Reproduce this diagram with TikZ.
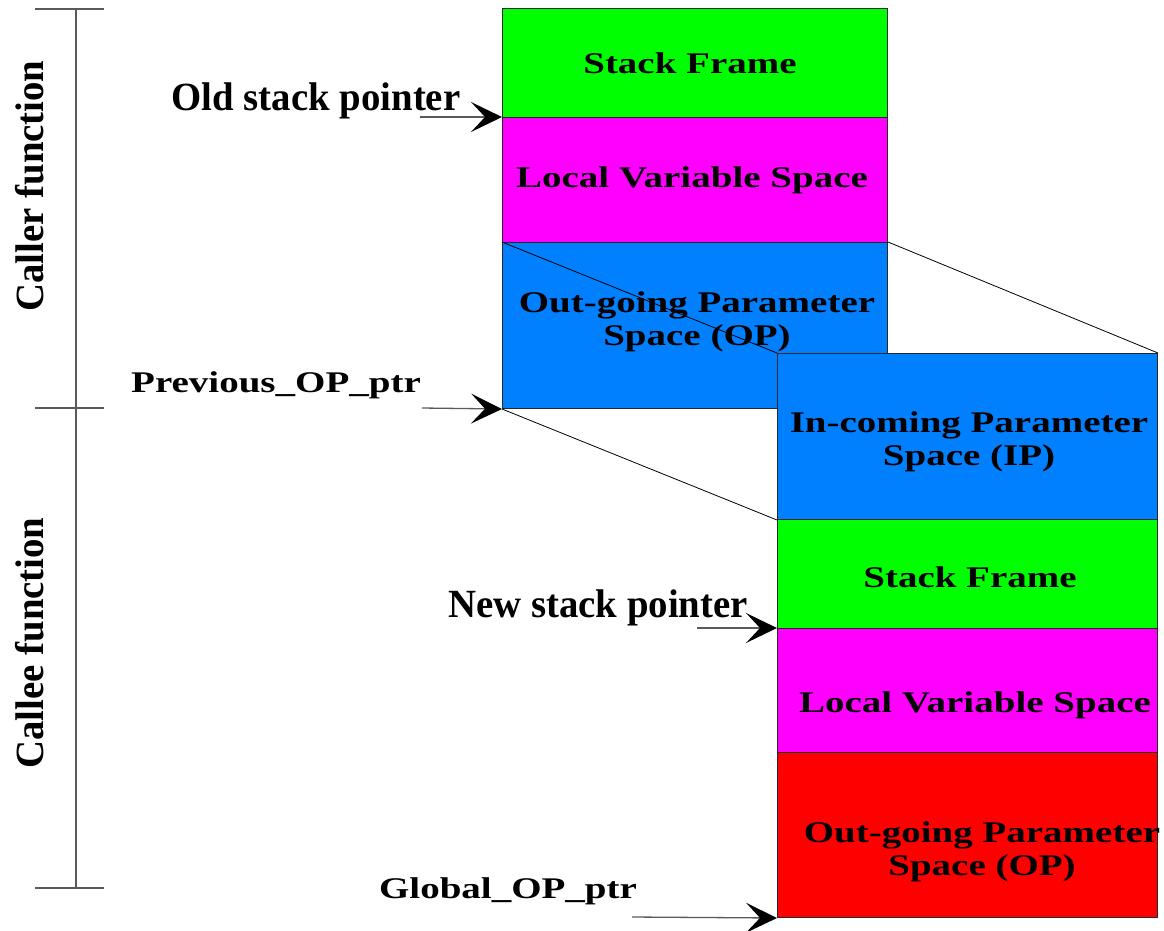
\documentclass[tikz,border=0pt]{standalone}
\usepackage{fontspec}
\setmainfont{Liberation Serif}
\newfontfamily\widefam{Liberation Serif}[FakeStretch=1.3]
\newfontfamily\sidefam{Liberation Serif}[FakeStretch=0.97]
\usetikzlibrary{arrows.meta}
\definecolor{framegreen}{RGB}{0,255,0}
\definecolor{localmag}{RGB}{255,0,255}
\definecolor{parblue}{RGB}{0,128,255}
\definecolor{outred}{RGB}{255,0,0}
\definecolor{edgegray}{RGB}{40,40,40}
\definecolor{rulegray}{RGB}{90,90,90}
\tikzset{
  seg/.style={draw=edgegray, line width=1pt, inner sep=0pt, anchor=north west},
  boxtext/.style={inner sep=0pt, font=\widefam\bfseries\fontsize{30}{33}\selectfont, align=center},
  sidetext/.style={inner sep=0pt, font=\sidefam\bfseries\fontsize{40}{44}\selectfont, anchor=base},
  ptrtext/.style={inner sep=0pt, font=\widefam\bfseries\fontsize{30}{33}\selectfont, anchor=base},
  ptr/.style={draw=rulegray, line width=1.3pt, -{Stealth[length=31pt,width=30pt,inset=14pt,black]}},
  link/.style={draw=black, line width=0.8pt},
  rule/.style={draw=rulegray, line width=1.5pt}
}
\begin{document}
\begin{tikzpicture}[x=1pt,y=-1pt]
\useasboundingbox (0,0) rectangle (1164,930);

% caller frame
\node[seg, fill=framegreen, minimum width=385pt, minimum height=109pt] (sf1) at (502,8) {};
\node[seg, fill=localmag, minimum width=385pt, minimum height=125pt] (lv1) at (502,117) {};
\node[seg, fill=parblue, minimum width=385pt, minimum height=166pt] (op1) at (502,242) {};
\node[boxtext, anchor=base] (sf1t) at (690,73) {Stack Frame};
\node[boxtext, anchor=base] (lv1t) at (692,187) {Local Variable Space};
\node[boxtext] (op1t) at (697,321.5) {Out-going Parameter\\Space (OP)};

% callee frame
\node[seg, fill=parblue, minimum width=380pt, minimum height=166pt] (ip2) at (777,353) {};
\node[seg, fill=framegreen, minimum width=380pt, minimum height=109pt] (sf2) at (777,519) {};
\node[seg, fill=localmag, minimum width=380pt, minimum height=124pt] (lv2) at (777,628) {};
\node[seg, fill=outred, minimum width=380pt, minimum height=165pt] (op2) at (777,752) {};
\node[boxtext] (ip2t) at (969,441.5) {In-coming Parameter\\Space (IP)};
\node[boxtext, anchor=base] (sf2t) at (970,587) {Stack Frame};
\node[boxtext, anchor=base] (lv2t) at (975,712) {Local Variable Space};
\node[boxtext] (op2t) at (982,851.5) {Out-going Parameter\\Space (OP)};

% the caller's outgoing area becomes the callee's incoming area
\draw[link] (op1.north west) -- (ip2.north west);
\draw[link] (op1.north east) -- (ip2.north east);
\draw[link] (op1.south west) -- (ip2.south west);

% pointers
\node[sidetext] (oldsp) at (316,110) {Old stack pointer};
\node[sidetext] (newsp) at (598,617) {New stack pointer};
\node[ptrtext] (prevop) at (276,392) {Previous\_OP\_ptr};
\node[ptrtext] (globop) at (508,898) {Global\_OP\_ptr};
\coordinate (oldtail) at (420,117);
\coordinate (prevtail) at (422,408);
\coordinate (newtail) at (697,628);
\coordinate (globtail) at (632,917);
\draw[ptr] (oldtail) -- (lv1.north west);
\draw[ptr] (prevtail) -- (op1.south west);
\draw[ptr] (newtail) -- (lv2.north west);
\draw[ptr] (globtail) -- (op2.south west);

% caller / callee extent ruler
\coordinate (rtop) at (76,9);
\coordinate (rmid) at (76,408);
\coordinate (rbot) at (76,888);
\coordinate (rtopl) at (35,9);
\coordinate (rtopr) at (104,9);
\coordinate (rmidl) at (35,408);
\coordinate (rmidr) at (104,408);
\coordinate (rbotl) at (35,888);
\coordinate (rbotr) at (104,888);
\draw[rule] (rtop) -- (rbot);
\draw[rule] (rtopl) -- (rtopr);
\draw[rule] (rmidl) -- (rmidr);
\draw[rule] (rbotl) -- (rbotr);
\node[sidetext, rotate=90] (caller) at (43,186) {Caller function};
\node[sidetext, rotate=90] (callee) at (43,643) {Callee function};
\end{tikzpicture}
\end{document}
